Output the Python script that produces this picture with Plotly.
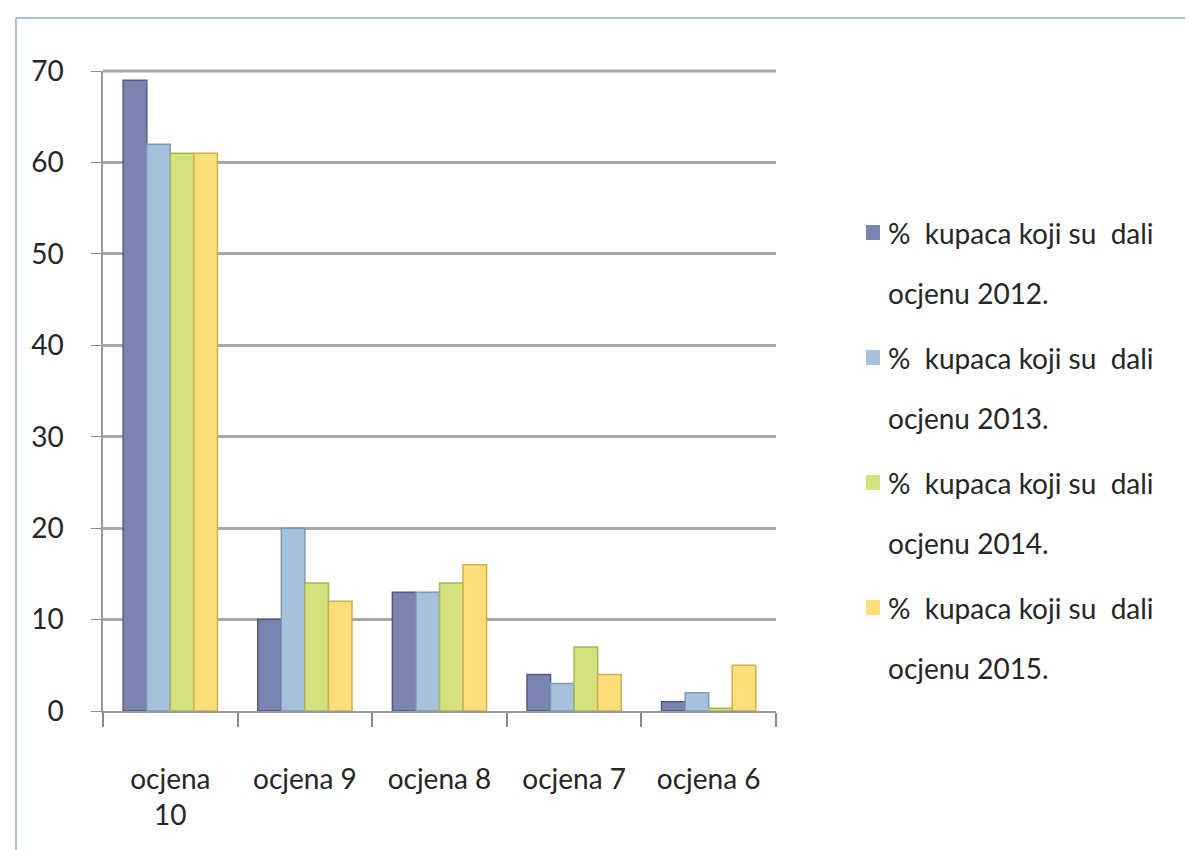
import plotly.graph_objects as go

categories = ["ocjena<br>10", "ocjena 9", "ocjena 8", "ocjena 7", "ocjena 6"]
legend_line1 = "%  kupaca koji su  dali"
legend_line2 = ["ocjenu 2012.", "ocjenu 2013.", "ocjenu 2014.", "ocjenu 2015."]
v2012 = [69, 10, 13, 4, 1]
v2013 = [62, 20, 13, 3, 2]
v2014 = [61, 14, 14, 7, 0.3]
v2015 = [61, 12, 16, 4, 5]
y_ticks = [0, 10, 20, 30, 40, 50, 60, 70]

fills = ["#7a84ae", "#a6c2da", "#d5e17c", "#fddf7a"]
edges = ["#515b85", "#7d9ab6", "#a9b55a", "#cfae4e"]

fig = go.Figure()
for i, vals in enumerate([v2012, v2013, v2014, v2015]):
    fig.add_trace(go.Bar(
        x=categories, y=vals, name=legend_line1 + " " + legend_line2[i],
        showlegend=False,
        marker=dict(color=fills[i], line=dict(color=edges[i], width=1.5)),
    ))

L, R, T, B = 95, 425, 63, 147
W = 1193 - L - R
H = 850 - T - B

def px_x(p):
    return (p - L) / W

def px_y(p):
    return (850 - B - p) / H

shapes = [
    dict(type="line", xref="paper", yref="paper",
         x0=px_x(8), x1=px_x(1193), y0=px_y(10), y1=px_y(10),
         line=dict(color="#a7bfd6", width=2)),
    dict(type="line", xref="paper", yref="paper",
         x0=px_x(8), x1=px_x(8), y0=px_y(10), y1=px_y(850),
         line=dict(color="#a7bfd6", width=2)),
    dict(type="line", xref="paper", yref="paper", layer="below",
         x0=0, x1=1, y0=1, y1=1,
         line=dict(color="#a8a8a8", width=3)),
]
annotations = []
entry_tops = [225, 350, 475, 600]
for i, top in enumerate(entry_tops):
    shapes.append(dict(
        type="rect", xref="paper", yref="paper",
        x0=px_x(858), x1=px_x(872), y0=px_y(top - 8), y1=px_y(top + 7),
        fillcolor=fills[i], line=dict(color=fills[i], width=0),
    ))
    annotations.append(dict(
        xref="paper", yref="paper", x=px_x(878), y=px_y(top),
        xanchor="left", yanchor="middle", showarrow=False,
        text=legend_line1, font=dict(size=28),
    ))
    annotations.append(dict(
        xref="paper", yref="paper", x=px_x(878), y=px_y(top + 60),
        xanchor="left", yanchor="middle", showarrow=False,
        text=legend_line2[i], font=dict(size=28),
    ))

fig.update_layout(
    width=1193, height=850,
    margin=dict(l=L, r=R, t=T, b=B),
    paper_bgcolor="white", plot_bgcolor="white",
    barmode="group", bargap=0.3, bargroupgap=0.0,
    showlegend=False,
    font=dict(family="Lato, Open Sans, sans-serif", size=26, color="#262626"),
    xaxis=dict(
        showline=True, linecolor="#9a9a9a", linewidth=2,
        ticks="outside", ticklen=14, tickcolor="#8a8a8a", tickwidth=1.5,
        tickson="boundaries", showgrid=False,
        tickfont=dict(size=28), ticklabelstandoff=42,
    ),
    yaxis=dict(
        range=[0, 70], tickvals=y_ticks,
        showline=True, linecolor="#9a9a9a", linewidth=1.5,
        ticks="outside", ticklen=10, tickcolor="#8a8a8a",
        showgrid=True, gridcolor="#a8a8a8", gridwidth=3,
        zeroline=False, tickfont=dict(size=28), ticklabelstandoff=22,
    ),
    shapes=shapes,
    annotations=annotations,
)

fig.write_html("out.html")
